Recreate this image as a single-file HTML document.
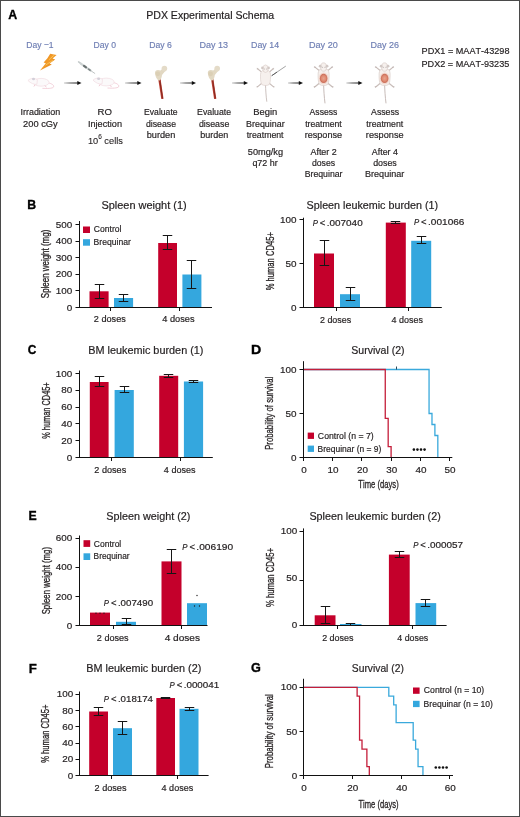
<!DOCTYPE html>
<html><head><meta charset="utf-8"><title>PDX Experimental Schema</title>
<style>html,body{margin:0;padding:0;background:#fff;}svg{display:block;will-change:transform;}
text{font-family:"Liberation Sans", sans-serif;font-kerning:none;}</style></head>
<body>
<svg width="520" height="817" viewBox="0 0 520 817">
<rect x="0" y="0" width="520" height="817" fill="#ffffff"/>
<text x="8.14" y="19.2" font-size="13.5" font-family="Liberation Sans, sans-serif" fill="#000" font-weight="bold" textLength="8.93" lengthAdjust="spacingAndGlyphs" stroke="#000" stroke-width="0.35">A</text>
<text x="146.23" y="19" font-size="10" font-family="Liberation Sans, sans-serif" fill="#231f20" font-weight="normal" textLength="127.97" lengthAdjust="spacingAndGlyphs" stroke="#231f20" stroke-width="0.18">PDX Experimental Schema</text>
<text x="26.35" y="48.1" font-size="9.5" font-family="Liberation Sans, sans-serif" fill="#6f7fb4" font-weight="normal" textLength="27.27" lengthAdjust="spacingAndGlyphs" stroke="#6f7fb4" stroke-width="0.18">Day −1</text>
<text x="93.6" y="48.1" font-size="9.5" font-family="Liberation Sans, sans-serif" fill="#6f7fb4" font-weight="normal" textLength="22.44" lengthAdjust="spacingAndGlyphs" stroke="#6f7fb4" stroke-width="0.18">Day 0</text>
<text x="149.19" y="48.1" font-size="9.5" font-family="Liberation Sans, sans-serif" fill="#6f7fb4" font-weight="normal" textLength="22.59" lengthAdjust="spacingAndGlyphs" stroke="#6f7fb4" stroke-width="0.18">Day 6</text>
<text x="199.56" y="48.1" font-size="9.5" font-family="Liberation Sans, sans-serif" fill="#6f7fb4" font-weight="normal" textLength="28.53" lengthAdjust="spacingAndGlyphs" stroke="#6f7fb4" stroke-width="0.18">Day 13</text>
<text x="251.08" y="48.1" font-size="9.5" font-family="Liberation Sans, sans-serif" fill="#6f7fb4" font-weight="normal" textLength="27.98" lengthAdjust="spacingAndGlyphs" stroke="#6f7fb4" stroke-width="0.18">Day 14</text>
<text x="309.06" y="48.1" font-size="9.5" font-family="Liberation Sans, sans-serif" fill="#6f7fb4" font-weight="normal" textLength="28.7" lengthAdjust="spacingAndGlyphs" stroke="#6f7fb4" stroke-width="0.18">Day 20</text>
<text x="370.46" y="48.1" font-size="9.5" font-family="Liberation Sans, sans-serif" fill="#6f7fb4" font-weight="normal" textLength="28.43" lengthAdjust="spacingAndGlyphs" stroke="#6f7fb4" stroke-width="0.18">Day 26</text>
<text x="20.47" y="115.2" font-size="9" font-family="Liberation Sans, sans-serif" fill="#231f20" font-weight="normal" textLength="39.81" lengthAdjust="spacingAndGlyphs" stroke="#231f20" stroke-width="0.18">Irradiation</text>
<text x="23.08" y="126.6" font-size="9" font-family="Liberation Sans, sans-serif" fill="#231f20" font-weight="normal" textLength="34.64" lengthAdjust="spacingAndGlyphs" stroke="#231f20" stroke-width="0.18">200 cGy</text>
<text x="97.51" y="115.2" font-size="9" font-family="Liberation Sans, sans-serif" fill="#231f20" font-weight="normal" textLength="14.4" lengthAdjust="spacingAndGlyphs" stroke="#231f20" stroke-width="0.18">RO</text>
<text x="87.96" y="126.6" font-size="9" font-family="Liberation Sans, sans-serif" fill="#231f20" font-weight="normal" textLength="34.09" lengthAdjust="spacingAndGlyphs" stroke="#231f20" stroke-width="0.18">Injection</text>
<text x="144.09" y="115.2" font-size="9" font-family="Liberation Sans, sans-serif" fill="#231f20" font-weight="normal" textLength="33.49" lengthAdjust="spacingAndGlyphs" stroke="#231f20" stroke-width="0.18">Evaluate</text>
<text x="145.93" y="126.6" font-size="9" font-family="Liberation Sans, sans-serif" fill="#231f20" font-weight="normal" textLength="30.16" lengthAdjust="spacingAndGlyphs" stroke="#231f20" stroke-width="0.18">disease</text>
<text x="146.71" y="137.8" font-size="9" font-family="Liberation Sans, sans-serif" fill="#231f20" font-weight="normal" textLength="28.59" lengthAdjust="spacingAndGlyphs" stroke="#231f20" stroke-width="0.18">burden</text>
<text x="197.08" y="115.2" font-size="9" font-family="Liberation Sans, sans-serif" fill="#231f20" font-weight="normal" textLength="34.01" lengthAdjust="spacingAndGlyphs" stroke="#231f20" stroke-width="0.18">Evaluate</text>
<text x="198.93" y="126.6" font-size="9" font-family="Liberation Sans, sans-serif" fill="#231f20" font-weight="normal" textLength="30.41" lengthAdjust="spacingAndGlyphs" stroke="#231f20" stroke-width="0.18">disease</text>
<text x="200.22" y="137.8" font-size="9" font-family="Liberation Sans, sans-serif" fill="#231f20" font-weight="normal" textLength="28.07" lengthAdjust="spacingAndGlyphs" stroke="#231f20" stroke-width="0.18">burden</text>
<text x="253.23" y="115.2" font-size="9" font-family="Liberation Sans, sans-serif" fill="#231f20" font-weight="normal" textLength="23.98" lengthAdjust="spacingAndGlyphs" stroke="#231f20" stroke-width="0.18">Begin</text>
<text x="246.07" y="126.6" font-size="9" font-family="Liberation Sans, sans-serif" fill="#231f20" font-weight="normal" textLength="38.58" lengthAdjust="spacingAndGlyphs" stroke="#231f20" stroke-width="0.18">Brequinar</text>
<text x="246.67" y="137.8" font-size="9" font-family="Liberation Sans, sans-serif" fill="#231f20" font-weight="normal" textLength="36.9" lengthAdjust="spacingAndGlyphs" stroke="#231f20" stroke-width="0.18">treatment</text>
<text x="247.83" y="154.7" font-size="9" font-family="Liberation Sans, sans-serif" fill="#231f20" font-weight="normal" textLength="35.26" lengthAdjust="spacingAndGlyphs" stroke="#231f20" stroke-width="0.18">50mg/kg</text>
<text x="252.42" y="165.5" font-size="9" font-family="Liberation Sans, sans-serif" fill="#231f20" font-weight="normal" textLength="25.32" lengthAdjust="spacingAndGlyphs" stroke="#231f20" stroke-width="0.18">q72 hr</text>
<text x="309.58" y="115.2" font-size="9" font-family="Liberation Sans, sans-serif" fill="#231f20" font-weight="normal" textLength="27.83" lengthAdjust="spacingAndGlyphs" stroke="#231f20" stroke-width="0.18">Assess</text>
<text x="305.17" y="126.6" font-size="9" font-family="Liberation Sans, sans-serif" fill="#231f20" font-weight="normal" textLength="36.59" lengthAdjust="spacingAndGlyphs" stroke="#231f20" stroke-width="0.18">treatment</text>
<text x="304.7" y="137.8" font-size="9" font-family="Liberation Sans, sans-serif" fill="#231f20" font-weight="normal" textLength="37.41" lengthAdjust="spacingAndGlyphs" stroke="#231f20" stroke-width="0.18">response</text>
<text x="310.48" y="154.9" font-size="9" font-family="Liberation Sans, sans-serif" fill="#231f20" font-weight="normal" textLength="26.27" lengthAdjust="spacingAndGlyphs" stroke="#231f20" stroke-width="0.18">After 2</text>
<text x="311.94" y="165.8" font-size="9" font-family="Liberation Sans, sans-serif" fill="#231f20" font-weight="normal" textLength="23.18" lengthAdjust="spacingAndGlyphs" stroke="#231f20" stroke-width="0.18">doses</text>
<text x="304.68" y="176.6" font-size="9" font-family="Liberation Sans, sans-serif" fill="#231f20" font-weight="normal" textLength="37.86" lengthAdjust="spacingAndGlyphs" stroke="#231f20" stroke-width="0.18">Brequinar</text>
<text x="371.08" y="115.2" font-size="9" font-family="Liberation Sans, sans-serif" fill="#231f20" font-weight="normal" textLength="28.13" lengthAdjust="spacingAndGlyphs" stroke="#231f20" stroke-width="0.18">Assess</text>
<text x="366.37" y="126.6" font-size="9" font-family="Liberation Sans, sans-serif" fill="#231f20" font-weight="normal" textLength="36.9" lengthAdjust="spacingAndGlyphs" stroke="#231f20" stroke-width="0.18">treatment</text>
<text x="365.89" y="137.8" font-size="9" font-family="Liberation Sans, sans-serif" fill="#231f20" font-weight="normal" textLength="37.72" lengthAdjust="spacingAndGlyphs" stroke="#231f20" stroke-width="0.18">response</text>
<text x="371.78" y="154.9" font-size="9" font-family="Liberation Sans, sans-serif" fill="#231f20" font-weight="normal" textLength="26.18" lengthAdjust="spacingAndGlyphs" stroke="#231f20" stroke-width="0.18">After 4</text>
<text x="373.13" y="165.8" font-size="9" font-family="Liberation Sans, sans-serif" fill="#231f20" font-weight="normal" textLength="23.69" lengthAdjust="spacingAndGlyphs" stroke="#231f20" stroke-width="0.18">doses</text>
<text x="365.06" y="176.6" font-size="9" font-family="Liberation Sans, sans-serif" fill="#231f20" font-weight="normal" textLength="39.19" lengthAdjust="spacingAndGlyphs" stroke="#231f20" stroke-width="0.18">Brequinar</text>
<text x="87.9" y="143.7" font-size="9" font-family="Liberation Sans, sans-serif" fill="#231f20" stroke="#231f20" stroke-width="0.1" textLength="35" lengthAdjust="spacingAndGlyphs">10<tspan font-size="6.3" dy="-4.3">6</tspan><tspan dy="4.3"> cells</tspan></text>
<text x="421.55" y="54" font-size="9.5" font-family="Liberation Sans, sans-serif" fill="#231f20" font-weight="normal" textLength="87.94" lengthAdjust="spacingAndGlyphs" stroke="#231f20" stroke-width="0.18">PDX1 = MAAT-43298</text>
<text x="421.55" y="67.4" font-size="9.5" font-family="Liberation Sans, sans-serif" fill="#231f20" font-weight="normal" textLength="87.73" lengthAdjust="spacingAndGlyphs" stroke="#231f20" stroke-width="0.18">PDX2 = MAAT-93235</text>
<rect x="64" y="82.5" width="14" height="1" fill="url(#shaft)"/>
<path d="M77.3 81 L81.5 83 L77.3 85 Z" fill="#111"/>
<rect x="125" y="82.5" width="13" height="1" fill="url(#shaft)"/>
<path d="M137.3 81 L141.5 83 L137.3 85 Z" fill="#111"/>
<rect x="180" y="82.5" width="12.5" height="1" fill="url(#shaft)"/>
<path d="M191.8 81 L196 83 L191.8 85 Z" fill="#111"/>
<rect x="232" y="82.5" width="12.5" height="1" fill="url(#shaft)"/>
<path d="M243.8 81 L248 83 L243.8 85 Z" fill="#111"/>
<rect x="288" y="82.5" width="11.5" height="1" fill="url(#shaft)"/>
<path d="M298.8 81 L303 83 L298.8 85 Z" fill="#111"/>
<rect x="346.3" y="82.5" width="12.7" height="1" fill="url(#shaft)"/>
<path d="M358.3 81 L362.5 83 L358.3 85 Z" fill="#111"/>
<defs>
<linearGradient id="shaft" x1="0" y1="0" x2="1" y2="0"><stop offset="0" stop-color="#c8c8c8"/><stop offset="0.45" stop-color="#555"/><stop offset="1" stop-color="#111"/></linearGradient>
<linearGradient id="bolt" x1="0" y1="0" x2="1" y2="1"><stop offset="0" stop-color="#ec8a1c"/><stop offset="0.5" stop-color="#f19b2a"/><stop offset="1" stop-color="#d8700e"/></linearGradient>
<radialGradient id="abd" cx="0.5" cy="0.5" r="0.5"><stop offset="0" stop-color="#e9a48e"/><stop offset="0.6" stop-color="#df8a72"/><stop offset="1" stop-color="#c76a55"/></radialGradient>
<g id="smouse">
  <path d="M20.5 5.2 C24 6 26.5 7.6 25.6 9.4 C24.6 10.9 19 10.9 14.5 10.6" fill="none" stroke="#eebfcc" stroke-width="0.7"/>
  <ellipse cx="13.2" cy="4.6" rx="8" ry="3.9" fill="#fbf9fa" stroke="#f0d6dd" stroke-width="0.6"/>
  <path d="M0 2.8 C1.5 1.2 4 0.4 7 0.8 L9.5 2 L9 6.6 C6 7 3 5.6 0 2.8 Z" fill="#fbf9fa" stroke="#f0d6dd" stroke-width="0.6"/>
  <ellipse cx="5.6" cy="1.3" rx="1.5" ry="1.2" fill="#d2cfd8"/>
  <path d="M7 7.2 L6 8.8 M17 7.8 L18.5 9.6" stroke="#eebfcc" stroke-width="0.8"/>
</g>
<g id="tmouse">
  <path d="M0 20 C0.2 26 0.5 31 1.3 37.3" fill="none" stroke="#bfb2ae" stroke-width="0.8"/>
  <path d="M-3.2 8.2 L-7.6 4.6 M3.2 8.2 L7.4 4.6 M-3.4 18.6 L-7.8 22.2 M3.4 18.6 L7.8 22.2" stroke="#c9bdb9" stroke-width="1.1" stroke-linecap="round"/>
  <path d="M-7.6 4.6 l-0.6 -1.1 M-7.6 4.6 l-1.2 -0.2 M7.4 4.6 l0.6 -1.1 M7.4 4.6 l1.2 -0.2 M-7.8 22.2 l-1.2 0 M-7.8 22.2 l-0.6 0.9 M7.8 22.2 l1.2 0 M7.8 22.2 l0.6 0.9" stroke="#b3a7a3" stroke-width="0.6"/>
  <path d="M-3 6.2 C-4.9 7.2 -5.1 9.5 -5 12.5 C-4.9 16 -4.8 18.6 -3.6 20.2 C-2 21.4 2 21.4 3.6 20.2 C4.8 18.6 4.9 16 5 12.5 C5.1 9.5 4.9 7.2 3 6.2 Z" fill="#f6f0ed" stroke="#d8cbc6" stroke-width="0.6"/>
  <ellipse cx="0" cy="4.3" rx="2.7" ry="3.8" fill="#f6f0ed" stroke="#d8cbc6" stroke-width="0.6"/>
  <circle cx="-3.1" cy="3.5" r="1.3" fill="#d2c8c5"/>
  <circle cx="3.1" cy="3.5" r="1.3" fill="#d2c8c5"/>
  <circle cx="-1.3" cy="4.6" r="0.45" fill="#8a8080"/>
  <circle cx="1.3" cy="4.6" r="0.45" fill="#8a8080"/>
</g>
</defs>
<!-- lightning -->
<path d="M50.2 53.8 L56.6 55 L52.6 58.6 L55.2 59.5 L49.6 63.6 L51.8 64.4 L40 70.6 L45.8 63.2 L43.6 62.4 L47.4 58.2 Z" fill="url(#bolt)"/>
<path d="M53.5 55.6 L49.2 59.6 M52.5 60.6 L46 64.8" stroke="#fbd36a" stroke-width="0.7" stroke-linecap="round"/>
<!-- mice side view -->
<use href="#smouse" x="27.9" y="77.7"/>
<use href="#smouse" x="93" y="77.4"/>
<!-- syringe -->
<g stroke-linecap="round">
<line x1="78.6" y1="61.9" x2="81" y2="63.7" stroke="#c4caca" stroke-width="1.6"/>
<line x1="80.8" y1="63.6" x2="90.4" y2="70.4" stroke="#cdd3d3" stroke-width="2.3"/>
<line x1="84" y1="65.8" x2="86" y2="67.3" stroke="#6a7272" stroke-width="2.1"/>
<line x1="88.6" y1="69.1" x2="90.3" y2="70.3" stroke="#7c8484" stroke-width="1.6"/>
<line x1="90.4" y1="70.4" x2="94.8" y2="73.4" stroke="#a3aaaa" stroke-width="0.7"/>
</g>
<!-- bones -->
<g id="bone">
  <line x1="159.4" y1="79" x2="162.4" y2="98.8" stroke="#c4473a" stroke-width="2.3"/>
  <line x1="159.6" y1="79" x2="162.5" y2="98.6" stroke="#8a2a20" stroke-width="1.2"/>
  <path d="M155 72.5 C155.5 69.5 158.5 69.6 160.5 70.6 L162.5 68.8 L165.5 70.8 L162 75 C161.6 77.6 161 80 159.6 80.6 C157.5 80.4 155.3 77.5 155 72.5 Z" fill="#e2d8c2"/>
  <circle cx="164.4" cy="68.6" r="2.8" fill="#e4dbc8"/>
  <circle cx="157.8" cy="73.8" r="2.4" fill="#dbcfb5"/>
</g>
<use href="#bone" x="52.8" y="0"/>
<!-- top view mice -->
<use href="#tmouse" x="265.5" y="64.4"/>
<line x1="271.7" y1="75.7" x2="285.8" y2="66.1" stroke="#8a8a8a" stroke-width="0.8"/>
<line x1="271.7" y1="75.7" x2="277" y2="72.1" stroke="#555" stroke-width="0.9"/>
<use href="#tmouse" transform="translate(323.6 62.3) scale(1.1)"/>
<ellipse cx="323.6" cy="78.6" rx="5" ry="6" fill="#f2d9d0"/>
<ellipse cx="323.6" cy="78.4" rx="3.8" ry="4.6" fill="url(#abd)"/>
<use href="#tmouse" transform="translate(384.6 62.3) scale(1.1)"/>
<ellipse cx="384.6" cy="78.6" rx="5" ry="6" fill="#f2d9d0"/>
<ellipse cx="384.6" cy="78.4" rx="3.8" ry="4.6" fill="url(#abd)"/>

<text x="27.33" y="209" font-size="13.5" font-family="Liberation Sans, sans-serif" fill="#000" font-weight="bold" textLength="8.88" lengthAdjust="spacingAndGlyphs" stroke="#000" stroke-width="0.35">B</text>
<text x="101.4" y="208.75" font-size="10" font-family="Liberation Sans, sans-serif" fill="#231f20" font-weight="normal" textLength="85.28" lengthAdjust="spacingAndGlyphs" stroke="#231f20" stroke-width="0.18">Spleen weight (1)</text>
<rect x="89.5" y="291.3" width="19.1" height="15.7" fill="#c4002b"/>
<rect x="114" y="298" width="19.1" height="9" fill="#34a7de"/>
<rect x="158.2" y="243" width="18.8" height="64" fill="#c4002b"/>
<rect x="182.4" y="274.5" width="19" height="32.5" fill="#34a7de"/>
<line x1="79.5" y1="221" x2="79.5" y2="308" stroke="#111" stroke-width="1" />
<line x1="75.5" y1="307.5" x2="79.5" y2="307.5" stroke="#111" stroke-width="1" />
<text x="66.88" y="310.64" font-size="9" font-family="Liberation Sans, sans-serif" fill="#231f20" font-weight="normal" textLength="5.51" lengthAdjust="spacingAndGlyphs" stroke="#231f20" stroke-width="0.18">0</text>
<line x1="75.5" y1="290.5" x2="79.5" y2="290.5" stroke="#111" stroke-width="1" />
<text x="55.87" y="294.04" font-size="9" font-family="Liberation Sans, sans-serif" fill="#231f20" font-weight="normal" textLength="16.52" lengthAdjust="spacingAndGlyphs" stroke="#231f20" stroke-width="0.18">100</text>
<line x1="75.5" y1="274.5" x2="79.5" y2="274.5" stroke="#111" stroke-width="1" />
<text x="55.87" y="277.44" font-size="9" font-family="Liberation Sans, sans-serif" fill="#231f20" font-weight="normal" textLength="16.52" lengthAdjust="spacingAndGlyphs" stroke="#231f20" stroke-width="0.18">200</text>
<line x1="75.5" y1="257.5" x2="79.5" y2="257.5" stroke="#111" stroke-width="1" />
<text x="55.87" y="260.84" font-size="9" font-family="Liberation Sans, sans-serif" fill="#231f20" font-weight="normal" textLength="16.52" lengthAdjust="spacingAndGlyphs" stroke="#231f20" stroke-width="0.18">300</text>
<line x1="75.5" y1="241.5" x2="79.5" y2="241.5" stroke="#111" stroke-width="1" />
<text x="55.87" y="244.24" font-size="9" font-family="Liberation Sans, sans-serif" fill="#231f20" font-weight="normal" textLength="16.52" lengthAdjust="spacingAndGlyphs" stroke="#231f20" stroke-width="0.18">400</text>
<line x1="75.5" y1="224.5" x2="79.5" y2="224.5" stroke="#111" stroke-width="1" />
<text x="55.87" y="227.64" font-size="9" font-family="Liberation Sans, sans-serif" fill="#231f20" font-weight="normal" textLength="16.52" lengthAdjust="spacingAndGlyphs" stroke="#231f20" stroke-width="0.18">500</text>
<line x1="76" y1="307.5" x2="212" y2="307.5" stroke="#111" stroke-width="1" />
<line x1="110.5" y1="307.5" x2="110.5" y2="311" stroke="#111" stroke-width="1" />
<line x1="179.5" y1="307.5" x2="179.5" y2="311" stroke="#111" stroke-width="1" />
<line x1="99.5" y1="284" x2="99.5" y2="299" stroke="#161616" stroke-width="1" />
<line x1="94.75" y1="284.5" x2="104.25" y2="284.5" stroke="#161616" stroke-width="1" />
<line x1="94.75" y1="298.5" x2="104.25" y2="298.5" stroke="#161616" stroke-width="1" />
<line x1="123.5" y1="294" x2="123.5" y2="302" stroke="#161616" stroke-width="1" />
<line x1="118.75" y1="294.5" x2="128.25" y2="294.5" stroke="#161616" stroke-width="1" />
<line x1="118.75" y1="301.5" x2="128.25" y2="301.5" stroke="#161616" stroke-width="1" />
<line x1="167.5" y1="235" x2="167.5" y2="250" stroke="#161616" stroke-width="1" />
<line x1="162.75" y1="235.5" x2="172.25" y2="235.5" stroke="#161616" stroke-width="1" />
<line x1="162.75" y1="249.5" x2="172.25" y2="249.5" stroke="#161616" stroke-width="1" />
<line x1="191.5" y1="260" x2="191.5" y2="289" stroke="#161616" stroke-width="1" />
<line x1="186.75" y1="260.5" x2="196.25" y2="260.5" stroke="#161616" stroke-width="1" />
<line x1="186.75" y1="288.5" x2="196.25" y2="288.5" stroke="#161616" stroke-width="1" />
<rect x="83" y="226.5" width="7" height="6.5" fill="#c4002b"/>
<rect x="83" y="239.2" width="7" height="6.5" fill="#34a7de"/>
<text x="93.86" y="232" font-size="8.5" font-family="Liberation Sans, sans-serif" fill="#231f20" font-weight="normal" textLength="27.66" lengthAdjust="spacingAndGlyphs" stroke="#231f20" stroke-width="0.18">Control</text>
<text x="93.6" y="245" font-size="8.5" font-family="Liberation Sans, sans-serif" fill="#231f20" font-weight="normal" textLength="37.25" lengthAdjust="spacingAndGlyphs" stroke="#231f20" stroke-width="0.18">Brequinar</text>
<text transform="translate(49.49 298.16) rotate(-90)" x="0" y="0" font-size="11" font-family="Liberation Sans, sans-serif" fill="#231f20" font-weight="normal" stroke="#231f20" stroke-width="0.3" textLength="68.45" lengthAdjust="spacingAndGlyphs">Spleen weight (mg)</text>
<text x="93.84" y="322.4" font-size="8.5" font-family="Liberation Sans, sans-serif" fill="#231f20" font-weight="normal" textLength="31.99" lengthAdjust="spacingAndGlyphs" stroke="#231f20" stroke-width="0.18">2 doses</text>
<text x="162.29" y="322.4" font-size="8.5" font-family="Liberation Sans, sans-serif" fill="#231f20" font-weight="normal" textLength="32.35" lengthAdjust="spacingAndGlyphs" stroke="#231f20" stroke-width="0.18">4 doses</text>
<text x="306.61" y="208.75" font-size="10" font-family="Liberation Sans, sans-serif" fill="#231f20" font-weight="normal" textLength="131.45" lengthAdjust="spacingAndGlyphs" stroke="#231f20" stroke-width="0.18">Spleen leukemic burden (1)</text>
<rect x="314" y="253.5" width="20" height="53.5" fill="#c4002b"/>
<rect x="340" y="294.2" width="20" height="12.8" fill="#34a7de"/>
<rect x="385.8" y="222.6" width="20" height="84.4" fill="#c4002b"/>
<rect x="411.2" y="240.8" width="20" height="66.2" fill="#34a7de"/>
<line x1="303.5" y1="217.7" x2="303.5" y2="308" stroke="#111" stroke-width="1" />
<line x1="299.5" y1="307.5" x2="303.5" y2="307.5" stroke="#111" stroke-width="1" />
<text x="291.08" y="310.64" font-size="9" font-family="Liberation Sans, sans-serif" fill="#231f20" font-weight="normal" textLength="5.51" lengthAdjust="spacingAndGlyphs" stroke="#231f20" stroke-width="0.18">0</text>
<line x1="299.5" y1="263.5" x2="303.5" y2="263.5" stroke="#111" stroke-width="1" />
<text x="285.57" y="266.64" font-size="9" font-family="Liberation Sans, sans-serif" fill="#231f20" font-weight="normal" textLength="11.01" lengthAdjust="spacingAndGlyphs" stroke="#231f20" stroke-width="0.18">50</text>
<line x1="299.5" y1="219.5" x2="303.5" y2="219.5" stroke="#111" stroke-width="1" />
<text x="280.07" y="222.64" font-size="9" font-family="Liberation Sans, sans-serif" fill="#231f20" font-weight="normal" textLength="16.52" lengthAdjust="spacingAndGlyphs" stroke="#231f20" stroke-width="0.18">100</text>
<line x1="300" y1="307.5" x2="441.8" y2="307.5" stroke="#111" stroke-width="1" />
<line x1="336.5" y1="307.5" x2="336.5" y2="311" stroke="#111" stroke-width="1" />
<line x1="408.5" y1="307.5" x2="408.5" y2="311" stroke="#111" stroke-width="1" />
<line x1="324.5" y1="240" x2="324.5" y2="266" stroke="#161616" stroke-width="1" />
<line x1="319.75" y1="240.5" x2="329.25" y2="240.5" stroke="#161616" stroke-width="1" />
<line x1="319.75" y1="265.5" x2="329.25" y2="265.5" stroke="#161616" stroke-width="1" />
<line x1="350.5" y1="287" x2="350.5" y2="301" stroke="#161616" stroke-width="1" />
<line x1="345.75" y1="287.5" x2="355.25" y2="287.5" stroke="#161616" stroke-width="1" />
<line x1="345.75" y1="300.5" x2="355.25" y2="300.5" stroke="#161616" stroke-width="1" />
<line x1="395.5" y1="221" x2="395.5" y2="224" stroke="#161616" stroke-width="1" />
<line x1="390.75" y1="221.5" x2="400.25" y2="221.5" stroke="#161616" stroke-width="1" />
<line x1="390.75" y1="223.5" x2="400.25" y2="223.5" stroke="#161616" stroke-width="1" />
<line x1="421.5" y1="236" x2="421.5" y2="244" stroke="#161616" stroke-width="1" />
<line x1="416.75" y1="236.5" x2="426.25" y2="236.5" stroke="#161616" stroke-width="1" />
<line x1="416.75" y1="243.5" x2="426.25" y2="243.5" stroke="#161616" stroke-width="1" />
<text x="312.66" y="226" font-size="8.5" font-family="Liberation Sans, sans-serif" fill="#231f20" font-weight="normal" textLength="5.19" lengthAdjust="spacingAndGlyphs" stroke="#231f20" stroke-width="0.18"><tspan font-style="italic">P</tspan></text>
<text x="319.83" y="226" font-size="8.5" font-family="Liberation Sans, sans-serif" fill="#231f20" font-weight="normal" textLength="5.53" lengthAdjust="spacingAndGlyphs" stroke="#231f20" stroke-width="0.18">&lt;</text>
<text x="326.79" y="226" font-size="8.5" font-family="Liberation Sans, sans-serif" fill="#231f20" font-weight="normal" textLength="35.89" lengthAdjust="spacingAndGlyphs" stroke="#231f20" stroke-width="0.18">.007040</text>
<text x="413.96" y="225.4" font-size="8.5" font-family="Liberation Sans, sans-serif" fill="#231f20" font-weight="normal" textLength="5.19" lengthAdjust="spacingAndGlyphs" stroke="#231f20" stroke-width="0.18"><tspan font-style="italic">P</tspan></text>
<text x="421.13" y="225.4" font-size="8.5" font-family="Liberation Sans, sans-serif" fill="#231f20" font-weight="normal" textLength="5.53" lengthAdjust="spacingAndGlyphs" stroke="#231f20" stroke-width="0.18">&lt;</text>
<text x="428.08" y="225.4" font-size="8.5" font-family="Liberation Sans, sans-serif" fill="#231f20" font-weight="normal" textLength="36.36" lengthAdjust="spacingAndGlyphs" stroke="#231f20" stroke-width="0.18">.001066</text>
<text transform="translate(274.08 290.37) rotate(-90)" x="0" y="0" font-size="11" font-family="Liberation Sans, sans-serif" fill="#231f20" font-weight="normal" stroke="#231f20" stroke-width="0.3" textLength="58.25" lengthAdjust="spacingAndGlyphs">% human CD45+</text>
<text x="319.95" y="322.7" font-size="8.5" font-family="Liberation Sans, sans-serif" fill="#231f20" font-weight="normal" textLength="31.27" lengthAdjust="spacingAndGlyphs" stroke="#231f20" stroke-width="0.18">2 doses</text>
<text x="391.59" y="322.7" font-size="8.5" font-family="Liberation Sans, sans-serif" fill="#231f20" font-weight="normal" textLength="31.33" lengthAdjust="spacingAndGlyphs" stroke="#231f20" stroke-width="0.18">4 doses</text>
<text x="27.86" y="353.6" font-size="13.5" font-family="Liberation Sans, sans-serif" fill="#000" font-weight="bold" textLength="8.62" lengthAdjust="spacingAndGlyphs" stroke="#000" stroke-width="0.35">C</text>
<text x="88.21" y="354" font-size="10" font-family="Liberation Sans, sans-serif" fill="#231f20" font-weight="normal" textLength="115.26" lengthAdjust="spacingAndGlyphs" stroke="#231f20" stroke-width="0.18">BM leukemic burden (1)</text>
<rect x="89.8" y="382" width="18.8" height="75" fill="#c4002b"/>
<rect x="114.6" y="390" width="19.2" height="67" fill="#34a7de"/>
<rect x="159.2" y="375.8" width="19" height="81.2" fill="#c4002b"/>
<rect x="183.9" y="381.5" width="19.2" height="75.5" fill="#34a7de"/>
<line x1="79.5" y1="370.5" x2="79.5" y2="458" stroke="#111" stroke-width="1" />
<line x1="75.5" y1="457.5" x2="79.5" y2="457.5" stroke="#111" stroke-width="1" />
<text x="66.68" y="460.64" font-size="9" font-family="Liberation Sans, sans-serif" fill="#231f20" font-weight="normal" textLength="5.51" lengthAdjust="spacingAndGlyphs" stroke="#231f20" stroke-width="0.18">0</text>
<line x1="75.5" y1="440.5" x2="79.5" y2="440.5" stroke="#111" stroke-width="1" />
<text x="61.17" y="443.84" font-size="9" font-family="Liberation Sans, sans-serif" fill="#231f20" font-weight="normal" textLength="11.01" lengthAdjust="spacingAndGlyphs" stroke="#231f20" stroke-width="0.18">20</text>
<line x1="75.5" y1="423.5" x2="79.5" y2="423.5" stroke="#111" stroke-width="1" />
<text x="61.17" y="427.04" font-size="9" font-family="Liberation Sans, sans-serif" fill="#231f20" font-weight="normal" textLength="11.01" lengthAdjust="spacingAndGlyphs" stroke="#231f20" stroke-width="0.18">40</text>
<line x1="75.5" y1="407.5" x2="79.5" y2="407.5" stroke="#111" stroke-width="1" />
<text x="61.17" y="410.24" font-size="9" font-family="Liberation Sans, sans-serif" fill="#231f20" font-weight="normal" textLength="11.01" lengthAdjust="spacingAndGlyphs" stroke="#231f20" stroke-width="0.18">60</text>
<line x1="75.5" y1="390.5" x2="79.5" y2="390.5" stroke="#111" stroke-width="1" />
<text x="61.17" y="393.44" font-size="9" font-family="Liberation Sans, sans-serif" fill="#231f20" font-weight="normal" textLength="11.01" lengthAdjust="spacingAndGlyphs" stroke="#231f20" stroke-width="0.18">80</text>
<line x1="75.5" y1="373.5" x2="79.5" y2="373.5" stroke="#111" stroke-width="1" />
<text x="55.67" y="376.64" font-size="9" font-family="Liberation Sans, sans-serif" fill="#231f20" font-weight="normal" textLength="16.52" lengthAdjust="spacingAndGlyphs" stroke="#231f20" stroke-width="0.18">100</text>
<line x1="76" y1="457.5" x2="212.8" y2="457.5" stroke="#111" stroke-width="1" />
<line x1="111.5" y1="457.5" x2="111.5" y2="461" stroke="#111" stroke-width="1" />
<line x1="180.5" y1="457.5" x2="180.5" y2="461" stroke="#111" stroke-width="1" />
<line x1="99.5" y1="376" x2="99.5" y2="387" stroke="#161616" stroke-width="1" />
<line x1="94.75" y1="376.5" x2="104.25" y2="376.5" stroke="#161616" stroke-width="1" />
<line x1="94.75" y1="386.5" x2="104.25" y2="386.5" stroke="#161616" stroke-width="1" />
<line x1="124.5" y1="386" x2="124.5" y2="393" stroke="#161616" stroke-width="1" />
<line x1="119.75" y1="386.5" x2="129.25" y2="386.5" stroke="#161616" stroke-width="1" />
<line x1="119.75" y1="392.5" x2="129.25" y2="392.5" stroke="#161616" stroke-width="1" />
<line x1="168.5" y1="374" x2="168.5" y2="378" stroke="#161616" stroke-width="1" />
<line x1="163.75" y1="374.5" x2="173.25" y2="374.5" stroke="#161616" stroke-width="1" />
<line x1="163.75" y1="377.5" x2="173.25" y2="377.5" stroke="#161616" stroke-width="1" />
<line x1="193.5" y1="380" x2="193.5" y2="383" stroke="#161616" stroke-width="1" />
<line x1="188.75" y1="380.5" x2="198.25" y2="380.5" stroke="#161616" stroke-width="1" />
<line x1="188.75" y1="382.5" x2="198.25" y2="382.5" stroke="#161616" stroke-width="1" />
<text transform="translate(49.73 438.76) rotate(-90)" x="0" y="0" font-size="11" font-family="Liberation Sans, sans-serif" fill="#231f20" font-weight="normal" stroke="#231f20" stroke-width="0.3" textLength="56.43" lengthAdjust="spacingAndGlyphs">% human CD45+</text>
<text x="94.34" y="472.7" font-size="8.5" font-family="Liberation Sans, sans-serif" fill="#231f20" font-weight="normal" textLength="31.89" lengthAdjust="spacingAndGlyphs" stroke="#231f20" stroke-width="0.18">2 doses</text>
<text x="163.89" y="472.7" font-size="8.5" font-family="Liberation Sans, sans-serif" fill="#231f20" font-weight="normal" textLength="31.63" lengthAdjust="spacingAndGlyphs" stroke="#231f20" stroke-width="0.18">4 doses</text>
<text x="251" y="354" font-size="13.5" font-family="Liberation Sans, sans-serif" fill="#000" font-weight="bold" textLength="10.24" lengthAdjust="spacingAndGlyphs" stroke="#000" stroke-width="0.35">D</text>
<text x="351.32" y="354.4" font-size="10" font-family="Liberation Sans, sans-serif" fill="#231f20" font-weight="normal" textLength="53.23" lengthAdjust="spacingAndGlyphs" stroke="#231f20" stroke-width="0.18">Survival (2)</text>
<path d="M303.5 369.5 L429.06 369.5 L429.06 413.5 L431.98 413.5 L431.98 424.5 L434.9 424.5 L434.9 435.5 L437.82 435.5 L437.82 457.5" fill="none" stroke="#3aa9dc" stroke-width="1.3" stroke-linejoin="miter"/>
<line x1="396.5" y1="366.5" x2="396.5" y2="369.5" stroke="#2a4a5a" stroke-width="1" />
<path d="M303.5 369.5 L385.26 369.5 L385.26 418.4 L388.18 418.4 L388.18 446.6 L391.1 446.6 L391.1 457.5" fill="none" stroke="#c41e3a" stroke-width="1.3" stroke-linejoin="miter"/>
<line x1="303.5" y1="361.2" x2="303.5" y2="458" stroke="#111" stroke-width="1" />
<line x1="299.5" y1="457.5" x2="303.5" y2="457.5" stroke="#111" stroke-width="1" />
<text x="291.08" y="460.64" font-size="9" font-family="Liberation Sans, sans-serif" fill="#231f20" font-weight="normal" textLength="5.51" lengthAdjust="spacingAndGlyphs" stroke="#231f20" stroke-width="0.18">0</text>
<line x1="299.5" y1="413.5" x2="303.5" y2="413.5" stroke="#111" stroke-width="1" />
<text x="285.57" y="416.64" font-size="9" font-family="Liberation Sans, sans-serif" fill="#231f20" font-weight="normal" textLength="11.01" lengthAdjust="spacingAndGlyphs" stroke="#231f20" stroke-width="0.18">50</text>
<line x1="299.5" y1="369.5" x2="303.5" y2="369.5" stroke="#111" stroke-width="1" />
<text x="280.07" y="372.64" font-size="9" font-family="Liberation Sans, sans-serif" fill="#231f20" font-weight="normal" textLength="16.52" lengthAdjust="spacingAndGlyphs" stroke="#231f20" stroke-width="0.18">100</text>
<line x1="300" y1="457.5" x2="452.3" y2="457.5" stroke="#111" stroke-width="1" />
<line x1="303.5" y1="457.5" x2="303.5" y2="461" stroke="#111" stroke-width="1" />
<line x1="332.5" y1="457.5" x2="332.5" y2="461" stroke="#111" stroke-width="1" />
<line x1="361.5" y1="457.5" x2="361.5" y2="461" stroke="#111" stroke-width="1" />
<line x1="391.5" y1="457.5" x2="391.5" y2="461" stroke="#111" stroke-width="1" />
<line x1="420.5" y1="457.5" x2="420.5" y2="461" stroke="#111" stroke-width="1" />
<line x1="449.5" y1="457.5" x2="449.5" y2="461" stroke="#111" stroke-width="1" />
<text x="301.35" y="472.5" font-size="9" font-family="Liberation Sans, sans-serif" fill="#231f20" font-weight="normal" textLength="5.51" lengthAdjust="spacingAndGlyphs" stroke="#231f20" stroke-width="0.18">0</text>
<text x="327.61" y="472.5" font-size="9" font-family="Liberation Sans, sans-serif" fill="#231f20" font-weight="normal" textLength="11.01" lengthAdjust="spacingAndGlyphs" stroke="#231f20" stroke-width="0.18">10</text>
<text x="356.94" y="472.5" font-size="9" font-family="Liberation Sans, sans-serif" fill="#231f20" font-weight="normal" textLength="11.01" lengthAdjust="spacingAndGlyphs" stroke="#231f20" stroke-width="0.18">20</text>
<text x="386.2" y="472.5" font-size="9" font-family="Liberation Sans, sans-serif" fill="#231f20" font-weight="normal" textLength="11.01" lengthAdjust="spacingAndGlyphs" stroke="#231f20" stroke-width="0.18">30</text>
<text x="415.47" y="472.5" font-size="9" font-family="Liberation Sans, sans-serif" fill="#231f20" font-weight="normal" textLength="11.01" lengthAdjust="spacingAndGlyphs" stroke="#231f20" stroke-width="0.18">40</text>
<text x="444.59" y="472.5" font-size="9" font-family="Liberation Sans, sans-serif" fill="#231f20" font-weight="normal" textLength="11.01" lengthAdjust="spacingAndGlyphs" stroke="#231f20" stroke-width="0.18">50</text>
<text x="358.33" y="487.9" font-size="11" font-family="Liberation Sans, sans-serif" fill="#231f20" font-weight="normal" textLength="40.35" lengthAdjust="spacingAndGlyphs" stroke="#231f20" stroke-width="0.3">Time (days)</text>
<text transform="translate(273.29 449.84) rotate(-90)" x="0" y="0" font-size="11" font-family="Liberation Sans, sans-serif" fill="#231f20" font-weight="normal" stroke="#231f20" stroke-width="0.3" textLength="73.25" lengthAdjust="spacingAndGlyphs">Probability of survival</text>
<rect x="307.7" y="432.6" width="6.3" height="6.3" fill="#c4002b"/>
<rect x="307.7" y="445.6" width="6.3" height="6.3" fill="#34a7de"/>
<text x="317.86" y="438.9" font-size="8.5" font-family="Liberation Sans, sans-serif" fill="#231f20" font-weight="normal" textLength="55.78" lengthAdjust="spacingAndGlyphs" stroke="#231f20" stroke-width="0.18">Control (n = 7)</text>
<text x="317.6" y="451.9" font-size="8.5" font-family="Liberation Sans, sans-serif" fill="#231f20" font-weight="normal" textLength="63.82" lengthAdjust="spacingAndGlyphs" stroke="#231f20" stroke-width="0.18">Brequinar (n = 9)</text>
<circle cx="413.9" cy="449.6" r="1.3" fill="#111"/>
<circle cx="417.45" cy="449.6" r="1.3" fill="#111"/>
<circle cx="421" cy="449.6" r="1.3" fill="#111"/>
<circle cx="424.55" cy="449.6" r="1.3" fill="#111"/>
<text x="28.43" y="519.7" font-size="13.5" font-family="Liberation Sans, sans-serif" fill="#000" font-weight="bold" textLength="8.2" lengthAdjust="spacingAndGlyphs" stroke="#000" stroke-width="0.35">E</text>
<text x="106.31" y="519.5" font-size="10" font-family="Liberation Sans, sans-serif" fill="#231f20" font-weight="normal" textLength="84.06" lengthAdjust="spacingAndGlyphs" stroke="#231f20" stroke-width="0.18">Spleen weight (2)</text>
<rect x="90" y="612.6" width="20" height="12.4" fill="#c4002b"/>
<rect x="116" y="621.8" width="20" height="3.2" fill="#34a7de"/>
<rect x="161.5" y="561.4" width="20" height="63.6" fill="#c4002b"/>
<rect x="187" y="603.2" width="20" height="21.8" fill="#34a7de"/>
<line x1="79.5" y1="535.5" x2="79.5" y2="626" stroke="#111" stroke-width="1" />
<line x1="75.5" y1="625.5" x2="79.5" y2="625.5" stroke="#111" stroke-width="1" />
<text x="66.68" y="628.64" font-size="9" font-family="Liberation Sans, sans-serif" fill="#231f20" font-weight="normal" textLength="5.51" lengthAdjust="spacingAndGlyphs" stroke="#231f20" stroke-width="0.18">0</text>
<line x1="75.5" y1="596.5" x2="79.5" y2="596.5" stroke="#111" stroke-width="1" />
<text x="55.67" y="599.54" font-size="9" font-family="Liberation Sans, sans-serif" fill="#231f20" font-weight="normal" textLength="16.52" lengthAdjust="spacingAndGlyphs" stroke="#231f20" stroke-width="0.18">200</text>
<line x1="75.5" y1="567.5" x2="79.5" y2="567.5" stroke="#111" stroke-width="1" />
<text x="55.67" y="570.44" font-size="9" font-family="Liberation Sans, sans-serif" fill="#231f20" font-weight="normal" textLength="16.52" lengthAdjust="spacingAndGlyphs" stroke="#231f20" stroke-width="0.18">400</text>
<line x1="75.5" y1="538.5" x2="79.5" y2="538.5" stroke="#111" stroke-width="1" />
<text x="55.67" y="541.34" font-size="9" font-family="Liberation Sans, sans-serif" fill="#231f20" font-weight="normal" textLength="16.52" lengthAdjust="spacingAndGlyphs" stroke="#231f20" stroke-width="0.18">600</text>
<line x1="76" y1="625.5" x2="207.5" y2="625.5" stroke="#111" stroke-width="1" />
<line x1="113.5" y1="625.5" x2="113.5" y2="629" stroke="#111" stroke-width="1" />
<line x1="181.5" y1="625.5" x2="181.5" y2="629" stroke="#111" stroke-width="1" />
<line x1="126.5" y1="618" x2="126.5" y2="625" stroke="#161616" stroke-width="1" />
<line x1="121.75" y1="618.5" x2="131.25" y2="618.5" stroke="#161616" stroke-width="1" />
<line x1="121.75" y1="624.5" x2="131.25" y2="624.5" stroke="#161616" stroke-width="1" />
<line x1="171.5" y1="549" x2="171.5" y2="574" stroke="#161616" stroke-width="1" />
<line x1="166.75" y1="549.5" x2="176.25" y2="549.5" stroke="#161616" stroke-width="1" />
<line x1="166.75" y1="573.5" x2="176.25" y2="573.5" stroke="#161616" stroke-width="1" />
<circle cx="96" cy="613.3" r="0.7" fill="#231f20"/>
<circle cx="100" cy="613.3" r="0.7" fill="#231f20"/>
<circle cx="104" cy="613.3" r="0.7" fill="#231f20"/>
<circle cx="197" cy="595.5" r="0.7" fill="#231f20"/>
<circle cx="194.5" cy="606" r="0.7" fill="#231f20"/>
<circle cx="199.5" cy="606" r="0.7" fill="#231f20"/>
<text x="103.76" y="606.3" font-size="8.5" font-family="Liberation Sans, sans-serif" fill="#231f20" font-weight="normal" textLength="5.19" lengthAdjust="spacingAndGlyphs" stroke="#231f20" stroke-width="0.18"><tspan font-style="italic">P</tspan></text>
<text x="110.93" y="606.3" font-size="8.5" font-family="Liberation Sans, sans-serif" fill="#231f20" font-weight="normal" textLength="5.53" lengthAdjust="spacingAndGlyphs" stroke="#231f20" stroke-width="0.18">&lt;</text>
<text x="117.91" y="606.3" font-size="8.5" font-family="Liberation Sans, sans-serif" fill="#231f20" font-weight="normal" textLength="35.17" lengthAdjust="spacingAndGlyphs" stroke="#231f20" stroke-width="0.18">.007490</text>
<text x="182.26" y="550" font-size="8.5" font-family="Liberation Sans, sans-serif" fill="#231f20" font-weight="normal" textLength="5.19" lengthAdjust="spacingAndGlyphs" stroke="#231f20" stroke-width="0.18"><tspan font-style="italic">P</tspan></text>
<text x="189.43" y="550" font-size="8.5" font-family="Liberation Sans, sans-serif" fill="#231f20" font-weight="normal" textLength="5.53" lengthAdjust="spacingAndGlyphs" stroke="#231f20" stroke-width="0.18">&lt;</text>
<text x="196.37" y="550" font-size="8.5" font-family="Liberation Sans, sans-serif" fill="#231f20" font-weight="normal" textLength="36.83" lengthAdjust="spacingAndGlyphs" stroke="#231f20" stroke-width="0.18">.006190</text>
<rect x="83.5" y="540.2" width="6.7" height="6.7" fill="#c4002b"/>
<rect x="83.5" y="553.3" width="6.7" height="6.7" fill="#34a7de"/>
<text x="93.87" y="546.5" font-size="8.5" font-family="Liberation Sans, sans-serif" fill="#231f20" font-weight="normal" textLength="27.4" lengthAdjust="spacingAndGlyphs" stroke="#231f20" stroke-width="0.18">Control</text>
<text x="93.62" y="559.4" font-size="8.5" font-family="Liberation Sans, sans-serif" fill="#231f20" font-weight="normal" textLength="36.02" lengthAdjust="spacingAndGlyphs" stroke="#231f20" stroke-width="0.18">Brequinar</text>
<text transform="translate(49.64 614.36) rotate(-90)" x="0" y="0" font-size="11" font-family="Liberation Sans, sans-serif" fill="#231f20" font-weight="normal" stroke="#231f20" stroke-width="0.3" textLength="67.44" lengthAdjust="spacingAndGlyphs">Spleen weight (mg)</text>
<text x="96.84" y="640.7" font-size="8.5" font-family="Liberation Sans, sans-serif" fill="#231f20" font-weight="normal" textLength="31.78" lengthAdjust="spacingAndGlyphs" stroke="#231f20" stroke-width="0.18">2 doses</text>
<text x="164.67" y="640.7" font-size="8.5" font-family="Liberation Sans, sans-serif" fill="#231f20" font-weight="normal" textLength="35.4" lengthAdjust="spacingAndGlyphs" stroke="#231f20" stroke-width="0.18">4 doses</text>
<text x="309.41" y="520" font-size="10" font-family="Liberation Sans, sans-serif" fill="#231f20" font-weight="normal" textLength="131.35" lengthAdjust="spacingAndGlyphs" stroke="#231f20" stroke-width="0.18">Spleen leukemic burden (2)</text>
<rect x="314.7" y="615.3" width="20.8" height="9.7" fill="#c4002b"/>
<rect x="340" y="624" width="21.5" height="1" fill="#34a7de"/>
<rect x="388.9" y="554.6" width="20.8" height="70.4" fill="#c4002b"/>
<rect x="415.5" y="603.1" width="20.7" height="21.9" fill="#34a7de"/>
<line x1="303.5" y1="528.4" x2="303.5" y2="626" stroke="#111" stroke-width="1" />
<line x1="299.5" y1="625.5" x2="303.5" y2="625.5" stroke="#111" stroke-width="1" />
<text x="291.78" y="628.44" font-size="9" font-family="Liberation Sans, sans-serif" fill="#231f20" font-weight="normal" textLength="5.51" lengthAdjust="spacingAndGlyphs" stroke="#231f20" stroke-width="0.18">0</text>
<line x1="299.5" y1="580.5" x2="303.5" y2="580.5" stroke="#111" stroke-width="1" />
<text x="286.27" y="581.44" font-size="9" font-family="Liberation Sans, sans-serif" fill="#231f20" font-weight="normal" textLength="11.01" lengthAdjust="spacingAndGlyphs" stroke="#231f20" stroke-width="0.18">50</text>
<line x1="299.5" y1="531.5" x2="303.5" y2="531.5" stroke="#111" stroke-width="1" />
<text x="280.77" y="534.44" font-size="9" font-family="Liberation Sans, sans-serif" fill="#231f20" font-weight="normal" textLength="16.52" lengthAdjust="spacingAndGlyphs" stroke="#231f20" stroke-width="0.18">100</text>
<line x1="300" y1="625.5" x2="446.6" y2="625.5" stroke="#111" stroke-width="1" />
<line x1="337.5" y1="625.5" x2="337.5" y2="629" stroke="#111" stroke-width="1" />
<line x1="412.5" y1="625.5" x2="412.5" y2="629" stroke="#111" stroke-width="1" />
<line x1="325.5" y1="606" x2="325.5" y2="624" stroke="#161616" stroke-width="1" />
<line x1="320.75" y1="606.5" x2="330.25" y2="606.5" stroke="#161616" stroke-width="1" />
<line x1="320.75" y1="623.5" x2="330.25" y2="623.5" stroke="#161616" stroke-width="1" />
<line x1="350.5" y1="623" x2="350.5" y2="626" stroke="#161616" stroke-width="1" />
<line x1="345.75" y1="623.5" x2="355.25" y2="623.5" stroke="#161616" stroke-width="1" />
<line x1="345.75" y1="625.5" x2="355.25" y2="625.5" stroke="#161616" stroke-width="1" />
<line x1="399.5" y1="551" x2="399.5" y2="558" stroke="#161616" stroke-width="1" />
<line x1="394.75" y1="551.5" x2="404.25" y2="551.5" stroke="#161616" stroke-width="1" />
<line x1="394.75" y1="557.5" x2="404.25" y2="557.5" stroke="#161616" stroke-width="1" />
<line x1="425.5" y1="599" x2="425.5" y2="607" stroke="#161616" stroke-width="1" />
<line x1="420.75" y1="599.5" x2="430.25" y2="599.5" stroke="#161616" stroke-width="1" />
<line x1="420.75" y1="606.5" x2="430.25" y2="606.5" stroke="#161616" stroke-width="1" />
<text x="413.16" y="547.7" font-size="8.5" font-family="Liberation Sans, sans-serif" fill="#231f20" font-weight="normal" textLength="5.19" lengthAdjust="spacingAndGlyphs" stroke="#231f20" stroke-width="0.18"><tspan font-style="italic">P</tspan></text>
<text x="420.33" y="547.7" font-size="8.5" font-family="Liberation Sans, sans-serif" fill="#231f20" font-weight="normal" textLength="5.53" lengthAdjust="spacingAndGlyphs" stroke="#231f20" stroke-width="0.18">&lt;</text>
<text x="427.3" y="547.7" font-size="8.5" font-family="Liberation Sans, sans-serif" fill="#231f20" font-weight="normal" textLength="35.8" lengthAdjust="spacingAndGlyphs" stroke="#231f20" stroke-width="0.18">.000057</text>
<text transform="translate(273.78 607.08) rotate(-90)" x="0" y="0" font-size="11" font-family="Liberation Sans, sans-serif" fill="#231f20" font-weight="normal" stroke="#231f20" stroke-width="0.3" textLength="59.16" lengthAdjust="spacingAndGlyphs">% human CD45+</text>
<text x="322.15" y="640.7" font-size="8.5" font-family="Liberation Sans, sans-serif" fill="#231f20" font-weight="normal" textLength="31.37" lengthAdjust="spacingAndGlyphs" stroke="#231f20" stroke-width="0.18">2 doses</text>
<text x="397.3" y="640.7" font-size="8.5" font-family="Liberation Sans, sans-serif" fill="#231f20" font-weight="normal" textLength="30.92" lengthAdjust="spacingAndGlyphs" stroke="#231f20" stroke-width="0.18">4 doses</text>
<text x="28.67" y="672.8" font-size="13.5" font-family="Liberation Sans, sans-serif" fill="#000" font-weight="bold" textLength="8.07" lengthAdjust="spacingAndGlyphs" stroke="#000" stroke-width="0.35">F</text>
<text x="86.21" y="672" font-size="10" font-family="Liberation Sans, sans-serif" fill="#231f20" font-weight="normal" textLength="115.16" lengthAdjust="spacingAndGlyphs" stroke="#231f20" stroke-width="0.18">BM leukemic burden (2)</text>
<rect x="89.2" y="711.5" width="18.8" height="63.5" fill="#c4002b"/>
<rect x="113" y="728.2" width="19" height="46.8" fill="#34a7de"/>
<rect x="156.3" y="698" width="18.7" height="77" fill="#c4002b"/>
<rect x="179.5" y="708.8" width="19" height="66.2" fill="#34a7de"/>
<line x1="79.5" y1="691.5" x2="79.5" y2="776" stroke="#111" stroke-width="1" />
<line x1="75.5" y1="775.5" x2="79.5" y2="775.5" stroke="#111" stroke-width="1" />
<text x="67.88" y="778.64" font-size="9" font-family="Liberation Sans, sans-serif" fill="#231f20" font-weight="normal" textLength="5.51" lengthAdjust="spacingAndGlyphs" stroke="#231f20" stroke-width="0.18">0</text>
<line x1="75.5" y1="759.5" x2="79.5" y2="759.5" stroke="#111" stroke-width="1" />
<text x="62.37" y="762.39" font-size="9" font-family="Liberation Sans, sans-serif" fill="#231f20" font-weight="normal" textLength="11.01" lengthAdjust="spacingAndGlyphs" stroke="#231f20" stroke-width="0.18">20</text>
<line x1="75.5" y1="743.5" x2="79.5" y2="743.5" stroke="#111" stroke-width="1" />
<text x="62.37" y="746.14" font-size="9" font-family="Liberation Sans, sans-serif" fill="#231f20" font-weight="normal" textLength="11.01" lengthAdjust="spacingAndGlyphs" stroke="#231f20" stroke-width="0.18">40</text>
<line x1="75.5" y1="726.5" x2="79.5" y2="726.5" stroke="#111" stroke-width="1" />
<text x="62.37" y="729.89" font-size="9" font-family="Liberation Sans, sans-serif" fill="#231f20" font-weight="normal" textLength="11.01" lengthAdjust="spacingAndGlyphs" stroke="#231f20" stroke-width="0.18">60</text>
<line x1="75.5" y1="710.5" x2="79.5" y2="710.5" stroke="#111" stroke-width="1" />
<text x="62.37" y="713.64" font-size="9" font-family="Liberation Sans, sans-serif" fill="#231f20" font-weight="normal" textLength="11.01" lengthAdjust="spacingAndGlyphs" stroke="#231f20" stroke-width="0.18">80</text>
<line x1="75.5" y1="694.5" x2="79.5" y2="694.5" stroke="#111" stroke-width="1" />
<text x="56.87" y="697.39" font-size="9" font-family="Liberation Sans, sans-serif" fill="#231f20" font-weight="normal" textLength="16.52" lengthAdjust="spacingAndGlyphs" stroke="#231f20" stroke-width="0.18">100</text>
<line x1="76" y1="775.5" x2="208.6" y2="775.5" stroke="#111" stroke-width="1" />
<line x1="111.5" y1="775.5" x2="111.5" y2="779" stroke="#111" stroke-width="1" />
<line x1="177.5" y1="775.5" x2="177.5" y2="779" stroke="#111" stroke-width="1" />
<line x1="98.5" y1="707" x2="98.5" y2="716" stroke="#161616" stroke-width="1" />
<line x1="93.75" y1="707.5" x2="103.25" y2="707.5" stroke="#161616" stroke-width="1" />
<line x1="93.75" y1="715.5" x2="103.25" y2="715.5" stroke="#161616" stroke-width="1" />
<line x1="122.5" y1="721" x2="122.5" y2="735" stroke="#161616" stroke-width="1" />
<line x1="117.75" y1="721.5" x2="127.25" y2="721.5" stroke="#161616" stroke-width="1" />
<line x1="117.75" y1="734.5" x2="127.25" y2="734.5" stroke="#161616" stroke-width="1" />
<line x1="165.5" y1="697" x2="165.5" y2="699" stroke="#161616" stroke-width="1" />
<line x1="160.75" y1="697.5" x2="170.25" y2="697.5" stroke="#161616" stroke-width="1" />
<line x1="160.75" y1="698.5" x2="170.25" y2="698.5" stroke="#161616" stroke-width="1" />
<line x1="189.5" y1="707" x2="189.5" y2="711" stroke="#161616" stroke-width="1" />
<line x1="184.75" y1="707.5" x2="194.25" y2="707.5" stroke="#161616" stroke-width="1" />
<line x1="184.75" y1="710.5" x2="194.25" y2="710.5" stroke="#161616" stroke-width="1" />
<text x="103.76" y="702" font-size="8.5" font-family="Liberation Sans, sans-serif" fill="#231f20" font-weight="normal" textLength="5.19" lengthAdjust="spacingAndGlyphs" stroke="#231f20" stroke-width="0.18"><tspan font-style="italic">P</tspan></text>
<text x="110.93" y="702" font-size="8.5" font-family="Liberation Sans, sans-serif" fill="#231f20" font-weight="normal" textLength="5.53" lengthAdjust="spacingAndGlyphs" stroke="#231f20" stroke-width="0.18">&lt;</text>
<text x="117.91" y="702" font-size="8.5" font-family="Liberation Sans, sans-serif" fill="#231f20" font-weight="normal" textLength="35.07" lengthAdjust="spacingAndGlyphs" stroke="#231f20" stroke-width="0.18">.018174</text>
<text x="169.56" y="687.9" font-size="8.5" font-family="Liberation Sans, sans-serif" fill="#231f20" font-weight="normal" textLength="5.19" lengthAdjust="spacingAndGlyphs" stroke="#231f20" stroke-width="0.18"><tspan font-style="italic">P</tspan></text>
<text x="176.73" y="687.9" font-size="8.5" font-family="Liberation Sans, sans-serif" fill="#231f20" font-weight="normal" textLength="5.53" lengthAdjust="spacingAndGlyphs" stroke="#231f20" stroke-width="0.18">&lt;</text>
<text x="183.7" y="687.9" font-size="8.5" font-family="Liberation Sans, sans-serif" fill="#231f20" font-weight="normal" textLength="35.58" lengthAdjust="spacingAndGlyphs" stroke="#231f20" stroke-width="0.18">.000041</text>
<text transform="translate(49.48 762.87) rotate(-90)" x="0" y="0" font-size="11" font-family="Liberation Sans, sans-serif" fill="#231f20" font-weight="normal" stroke="#231f20" stroke-width="0.3" textLength="58.35" lengthAdjust="spacingAndGlyphs">% human CD45+</text>
<text x="94.54" y="790.9" font-size="8.5" font-family="Liberation Sans, sans-serif" fill="#231f20" font-weight="normal" textLength="31.99" lengthAdjust="spacingAndGlyphs" stroke="#231f20" stroke-width="0.18">2 doses</text>
<text x="161.59" y="790.9" font-size="8.5" font-family="Liberation Sans, sans-serif" fill="#231f20" font-weight="normal" textLength="31.63" lengthAdjust="spacingAndGlyphs" stroke="#231f20" stroke-width="0.18">4 doses</text>
<text x="251.08" y="672" font-size="13.5" font-family="Liberation Sans, sans-serif" fill="#000" font-weight="bold" textLength="9.86" lengthAdjust="spacingAndGlyphs" stroke="#000" stroke-width="0.35">G</text>
<text x="351.83" y="671.9" font-size="10" font-family="Liberation Sans, sans-serif" fill="#231f20" font-weight="normal" textLength="52" lengthAdjust="spacingAndGlyphs" stroke="#231f20" stroke-width="0.18">Survival (2)</text>
<path d="M303.5 687.3 L388.81 687.3 L388.81 696.12 L393.69 696.12 L393.69 704.94 L396.12 704.94 L396.12 722.58 L413.19 722.58 L413.19 740.22 L415.62 740.22 L415.62 749.04 L418.06 749.04 L418.06 766.68 L422.94 766.68 L422.94 775.5" fill="none" stroke="#3aa9dc" stroke-width="1.3" stroke-linejoin="miter"/>
<path d="M303.5 687.3 L357.12 687.3 L357.12 696.12 L359.56 696.12 L359.56 740.22 L362 740.22 L362 749.04 L366.88 749.04 L366.88 766.68 L369.31 766.68 L369.31 775.5" fill="none" stroke="#c41e3a" stroke-width="1.3" stroke-linejoin="miter"/>
<line x1="303.5" y1="678.75" x2="303.5" y2="776" stroke="#111" stroke-width="1" />
<line x1="299.5" y1="775.5" x2="303.5" y2="775.5" stroke="#111" stroke-width="1" />
<text x="291.88" y="778.64" font-size="9" font-family="Liberation Sans, sans-serif" fill="#231f20" font-weight="normal" textLength="5.51" lengthAdjust="spacingAndGlyphs" stroke="#231f20" stroke-width="0.18">0</text>
<line x1="299.5" y1="731.5" x2="303.5" y2="731.5" stroke="#111" stroke-width="1" />
<text x="286.37" y="734.54" font-size="9" font-family="Liberation Sans, sans-serif" fill="#231f20" font-weight="normal" textLength="11.01" lengthAdjust="spacingAndGlyphs" stroke="#231f20" stroke-width="0.18">50</text>
<line x1="299.5" y1="687.5" x2="303.5" y2="687.5" stroke="#111" stroke-width="1" />
<text x="280.87" y="690.44" font-size="9" font-family="Liberation Sans, sans-serif" fill="#231f20" font-weight="normal" textLength="16.52" lengthAdjust="spacingAndGlyphs" stroke="#231f20" stroke-width="0.18">100</text>
<line x1="300" y1="775.5" x2="453" y2="775.5" stroke="#111" stroke-width="1" />
<line x1="303.5" y1="775.5" x2="303.5" y2="779" stroke="#111" stroke-width="1" />
<line x1="352.5" y1="775.5" x2="352.5" y2="779" stroke="#111" stroke-width="1" />
<line x1="401.5" y1="775.5" x2="401.5" y2="779" stroke="#111" stroke-width="1" />
<line x1="449.5" y1="775.5" x2="449.5" y2="779" stroke="#111" stroke-width="1" />
<text x="301.35" y="790.6" font-size="9" font-family="Liberation Sans, sans-serif" fill="#231f20" font-weight="normal" textLength="5.51" lengthAdjust="spacingAndGlyphs" stroke="#231f20" stroke-width="0.18">0</text>
<text x="347.29" y="790.6" font-size="9" font-family="Liberation Sans, sans-serif" fill="#231f20" font-weight="normal" textLength="11.01" lengthAdjust="spacingAndGlyphs" stroke="#231f20" stroke-width="0.18">20</text>
<text x="396.17" y="790.6" font-size="9" font-family="Liberation Sans, sans-serif" fill="#231f20" font-weight="normal" textLength="11.01" lengthAdjust="spacingAndGlyphs" stroke="#231f20" stroke-width="0.18">40</text>
<text x="444.79" y="790.6" font-size="9" font-family="Liberation Sans, sans-serif" fill="#231f20" font-weight="normal" textLength="11.01" lengthAdjust="spacingAndGlyphs" stroke="#231f20" stroke-width="0.18">60</text>
<text x="358.43" y="807.5" font-size="11" font-family="Liberation Sans, sans-serif" fill="#231f20" font-weight="normal" textLength="40.14" lengthAdjust="spacingAndGlyphs" stroke="#231f20" stroke-width="0.3">Time (days)</text>
<text transform="translate(273.09 768.24) rotate(-90)" x="0" y="0" font-size="11" font-family="Liberation Sans, sans-serif" fill="#231f20" font-weight="normal" stroke="#231f20" stroke-width="0.3" textLength="74.07" lengthAdjust="spacingAndGlyphs">Probability of survival</text>
<rect x="413" y="687.5" width="6.6" height="6.3" fill="#c4002b"/>
<rect x="413" y="700.8" width="6.6" height="6.3" fill="#34a7de"/>
<text x="423.86" y="693.3" font-size="8.5" font-family="Liberation Sans, sans-serif" fill="#231f20" font-weight="normal" textLength="60.38" lengthAdjust="spacingAndGlyphs" stroke="#231f20" stroke-width="0.18">Control (n = 10)</text>
<text x="423.6" y="706.7" font-size="8.5" font-family="Liberation Sans, sans-serif" fill="#231f20" font-weight="normal" textLength="69.33" lengthAdjust="spacingAndGlyphs" stroke="#231f20" stroke-width="0.18">Brequinar (n = 10)</text>
<circle cx="435.8" cy="767.5" r="1.3" fill="#111"/>
<circle cx="439.4" cy="767.5" r="1.3" fill="#111"/>
<circle cx="443" cy="767.5" r="1.3" fill="#111"/>
<circle cx="446.6" cy="767.5" r="1.3" fill="#111"/>
<rect x="0.5" y="0.5" width="519" height="816" fill="none" stroke="#4a4a4a" stroke-width="1"/>
</svg>
</body></html>
